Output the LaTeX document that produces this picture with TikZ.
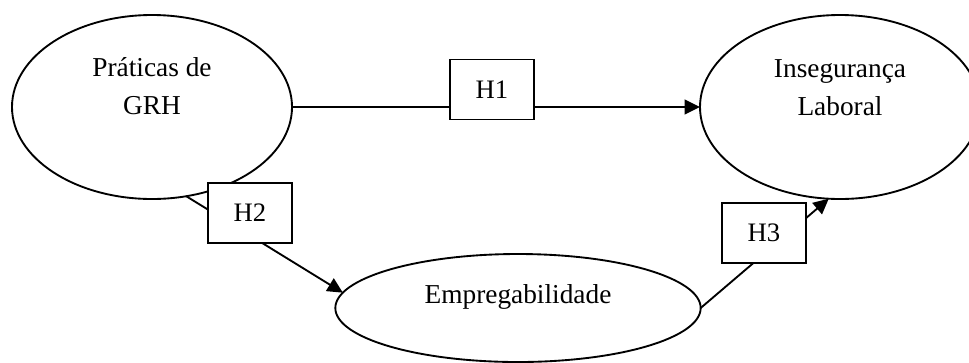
\documentclass[tikz,border=0pt]{standalone}
\usepackage{fontspec}
\setmainfont{Liberation Serif}
\usepackage{tikz}
\usetikzlibrary{shapes.geometric, arrows.meta, positioning}

\begin{document}
\begin{tikzpicture}[
    x=0.75pt, y=-0.75pt,
    line width=1.4pt,
    construct/.style={ellipse, draw, inner sep=0pt, outer sep=0pt},
    caption/.style={anchor=base, align=center, inner sep=0pt, font=\fontsize{20.5pt}{28.5pt}\selectfont},
    hypo/.style={rectangle, draw, fill=white, minimum width=63.5pt, minimum height=45pt, inner sep=0pt, font=\fontsize{20pt}{24pt}\selectfont},
    path/.style={-{Triangle[length=11.5pt, width=11pt]}}
]
\useasboundingbox (0,0) rectangle (969,362);

% Constructs
\node[construct, minimum width=210pt, minimum height=138pt] (grh) at (152,107) {};
\node[construct, minimum width=210pt, minimum height=138pt] (ins) at (840,107) {};
\node[construct, minimum width=274pt, minimum height=81pt] (emp) at (518,308) {};

% captions (base = last line)
\node[caption] (grhtext) at (152,114) {Práticas de\\GRH};
\node[caption] (instext) at (840,115) {Insegurança\\Laboral};
\node[caption] (emptext) at (518,303) {Empregabilidade};

% Paths
\draw[path] (grh.east) -- (ins.west);
\draw[path] (grh.-69) -- (emp.175);
\draw[path] (emp.east) -- (ins.-97);

% Hypotheses
\node[hypo] (h1) at (492,89.5) {H1};
\node[hypo] (h2) at (250,213) {H2};
\node[hypo] (h3) at (764,233) {H3};
\end{tikzpicture}
\end{document}
